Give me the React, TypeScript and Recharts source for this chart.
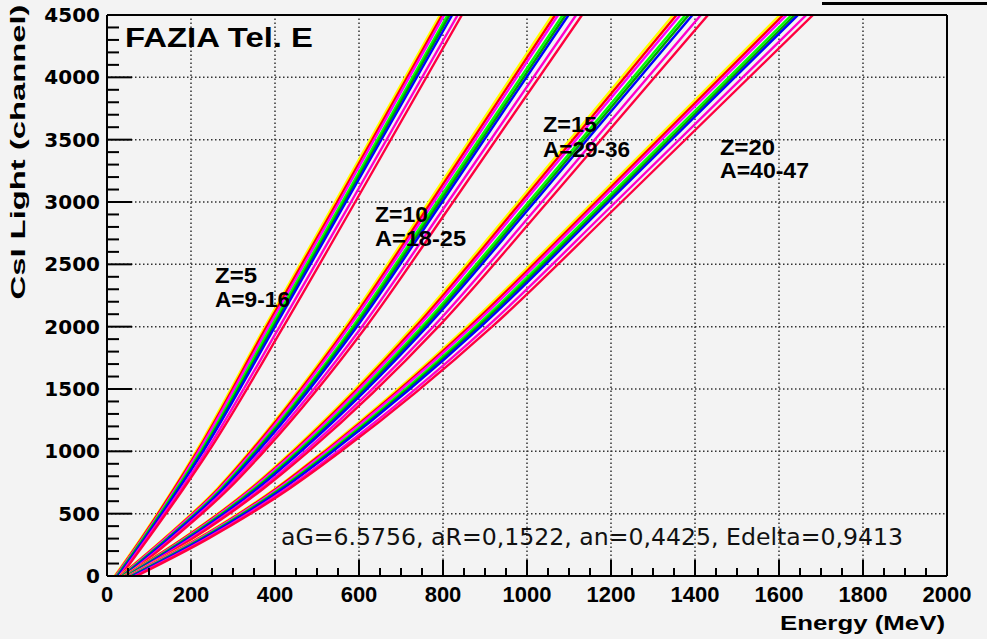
import React from 'react';
import { LineChart, Line, XAxis, YAxis, ReferenceLine } from 'recharts';

// light levels (channel) at which the energy of every isotope line was read
const LIGHT = [0, 300, 700, 1000, 2000, 3000, 4500];

// energy (MeV) per isotope, lightest to heaviest
const Z5_ENERGY = [
    [18, 80, 158, 212, 376, 543, 793],
    [20, 82, 160, 215, 380, 548, 798],
    [21, 84, 163, 218, 385, 553, 803],
    [23, 86, 166, 223, 391, 560, 811],
    [25, 88, 169, 226, 396, 565, 816],
    [26, 90, 171, 229, 400, 569, 822],
    [30, 94, 177, 236, 411, 581, 835],
    [33, 98, 182, 242, 420, 591, 845]
];

const Z10_ENERGY = [
    [30, 135, 262, 340, 567, 766, 1060],
    [32, 137, 265, 343, 572, 772, 1067],
    [34, 139, 268, 347, 577, 778, 1074],
    [36, 143, 272, 352, 585, 786, 1085],
    [38, 145, 275, 355, 590, 792, 1092],
    [40, 147, 277, 359, 595, 798, 1099],
    [44, 153, 284, 367, 607, 812, 1117],
    [48, 157, 290, 374, 617, 824, 1131]
];

const Z15_ENERGY = [
    [40, 180, 340, 440, 729, 979, 1348],
    [42, 182, 343, 444, 735, 986, 1356],
    [44, 185, 346, 448, 741, 993, 1365],
    [46, 188, 351, 454, 750, 1004, 1377],
    [48, 191, 354, 458, 756, 1011, 1385],
    [50, 193, 358, 462, 762, 1018, 1394],
    [54, 199, 366, 472, 777, 1035, 1414],
    [58, 204, 372, 480, 789, 1049, 1431]
];

const Z20_ENERGY = [
    [50, 215, 400, 515, 857, 1157, 1602],
    [52, 218, 403, 519, 863, 1164, 1610],
    [54, 220, 407, 523, 869, 1171, 1618],
    [57, 224, 412, 530, 878, 1181, 1630],
    [59, 227, 415, 534, 884, 1188, 1638],
    [61, 229, 419, 538, 890, 1194, 1645],
    [66, 236, 427, 549, 905, 1211, 1665],
    [70, 241, 434, 557, 917, 1225, 1681]
];

const GROUPS = [Z5_ENERGY, Z10_ENERGY, Z15_ENERGY, Z20_ENERGY];

const Z_LABELS = ['Z=5', 'Z=10', 'Z=15', 'Z=20'];
const A_LABELS = ['A=9-16', 'A=18-25', 'A=29-36', 'A=40-47'];

const X_LABELS = [0, 200, 400, 600, 800, 1000, 1200, 1400, 1600, 1800, 2000];
const Y_LABELS = [0, 500, 1000, 1500, 2000, 2500, 3000, 3500, 4000, 4500];

const TITLE = 'FAZIA Tel. E';
const FIT_PARAMS = 'aG=6.5756, aR=0,1522, an=0,4425, Edelta=0,9413';

const ISOTOPE_COLORS = ['#ffff00', '#ff0000', '#ff00ff', '#00ff00', '#00a000', '#0000ff', '#ff00cc', '#ff0040'];

// layout (page pixels)
const W = 987;
const H = 639;
const PLOT_LEFT = 107;
const PLOT_TOP = 15;
const PLOT_RIGHT = 947;
const PLOT_BOTTOM = 576;
const BG = '#f3f3f3';
const X_MAX = 2000;
const Y_MAX = 4500;

const xPix = (v: number) => PLOT_LEFT + (v / X_MAX) * (PLOT_RIGHT - PLOT_LEFT);
const yPix = (v: number) => PLOT_BOTTOM - (v / Y_MAX) * (PLOT_BOTTOM - PLOT_TOP);

const X_MINOR = Array.from({ length: 41 }, (_, i) => i * 50);
const Y_MINOR = Array.from({ length: 46 }, (_, i) => i * 100);

// label anchors: [x, baselineZ, baselineA, widthZ, widthA]
const LABEL_POS = [
    [215, 283, 307, 42, 75],
    [375, 222, 246, 53, 91],
    [543, 132, 157, 54, 87],
    [720, 155, 178, 55, 89]
];

const SANS = "'Liberation Sans', Arial, sans-serif";

const XTick = (props: any) => (
    <text x={props.x} y={602} textAnchor="middle" fontFamily={SANS} fontWeight="bold" fontSize={22} fill="#000">
        {props.payload.value}
    </text>
);

const YTick = (props: any) => (
    <text x={100} y={props.y + 7} textAnchor="end" fontFamily="'DejaVu Sans', sans-serif" fontWeight="bold"
        fontSize={20} fill="#000">
        {props.payload.value}
    </text>
);

export default function App() {
    const series = GROUPS.flatMap((group, g) =>
        group.map((row, i) => ({
            key: `z${g}-${i}`,
            color: ISOTOPE_COLORS[i],
            data: LIGHT.map((l, k) => ({ e: row[k], l }))
        }))
    );

    const grid = { stroke: '#333', strokeWidth: 1.5, strokeDasharray: '1.5 2.5' };

    return (
        <div style={{ position: 'absolute', left: 0, top: 0, width: W, height: H, background: BG, overflow: 'hidden' }}>
            <LineChart width={W} height={H} margin={{ top: PLOT_TOP, right: W - PLOT_RIGHT, bottom: 0, left: 0 }}>
                <XAxis
                    type="number"
                    dataKey="e"
                    domain={[0, X_MAX]}
                    ticks={X_LABELS}
                    interval={0}
                    height={H - PLOT_BOTTOM}
                    axisLine={{ stroke: '#000', strokeWidth: 2 }}
                    tickLine={false}
                    tick={(p: any) => <XTick {...p} />}
                    allowDataOverflow
                />
                <YAxis
                    type="number"
                    dataKey="l"
                    domain={[0, Y_MAX]}
                    ticks={Y_LABELS}
                    interval={0}
                    width={PLOT_LEFT}
                    axisLine={{ stroke: '#000', strokeWidth: 2 }}
                    tickLine={false}
                    tick={(p: any) => <YTick {...p} />}
                    allowDataOverflow
                />
                {X_LABELS.slice(1, -1).map((v) => (
                    <ReferenceLine key={`gx${v}`} x={v} {...grid} />
                ))}
                {Y_LABELS.slice(1, -1).map((v) => (
                    <ReferenceLine key={`gy${v}`} y={v} {...grid} />
                ))}
                {series.map((s) => (
                    <Line
                        key={s.key}
                        data={s.data}
                        dataKey="l"
                        type="monotone"
                        stroke={s.color}
                        strokeWidth={2.4}
                        dot={false}
                        activeDot={false}
                        isAnimationActive={false}
                    />
                ))}
                <ReferenceLine y={Y_MAX} stroke="#000" strokeWidth={2} />
                <ReferenceLine x={X_MAX} stroke="#000" strokeWidth={2} />
            </LineChart>

            <svg width={W} height={H} style={{ position: 'absolute', left: 0, top: 0, pointerEvents: 'none' }}>
                {/* inward ROOT-style ticks */}
                {X_MINOR.map((v) => {
                    const len = v % 200 === 0 ? 16 : 8;
                    return <rect key={`tx${v}`} x={xPix(v) - 1} y={PLOT_BOTTOM - len} width={2} height={len} fill="#000" />;
                })}
                {Y_MINOR.map((v) => {
                    const len = v % 500 === 0 ? 25 : 12;
                    return <rect key={`ty${v}`} x={PLOT_LEFT} y={yPix(v) - 1} width={len} height={2} fill="#000" />;
                })}
                <text x={125} y={47} fontFamily={SANS} fontWeight="bold" fontSize={28}
                    textLength={188} lengthAdjust="spacingAndGlyphs" fill="#000">
                    {TITLE}
                </text>
                {LABEL_POS.map(([x, yz, ya, wz, wa], g) => (
                    <g key={g} fontFamily={SANS} fontWeight="bold" fontSize={22} fill="#000">
                        <text x={x} y={yz} textLength={wz} lengthAdjust="spacingAndGlyphs">{Z_LABELS[g]}</text>
                        <text x={x} y={ya} textLength={wa} lengthAdjust="spacingAndGlyphs">{A_LABELS[g]}</text>
                    </g>
                ))}
                <text x={281} y={545} fontFamily="'DejaVu Sans', sans-serif" fontSize={23}
                    textLength={622} lengthAdjust="spacingAndGlyphs" fill="#111">
                    {FIT_PARAMS}
                </text>
                <text x={780} y={630} fontFamily={SANS} fontWeight="bold" fontSize={21}
                    textLength={165} lengthAdjust="spacingAndGlyphs" fill="#000">
                    Energy (MeV)
                </text>
                <text transform="translate(25,152) rotate(-90)" textAnchor="middle"
                    fontFamily={SANS} fontWeight="bold" fontSize={20}
                    textLength={295} lengthAdjust="spacingAndGlyphs" fill="#000">
                    CsI Light (channel)
                </text>
                <rect x={822} y={2} width={165} height={3} fill="#000" />
            </svg>
        </div>
    );
}
